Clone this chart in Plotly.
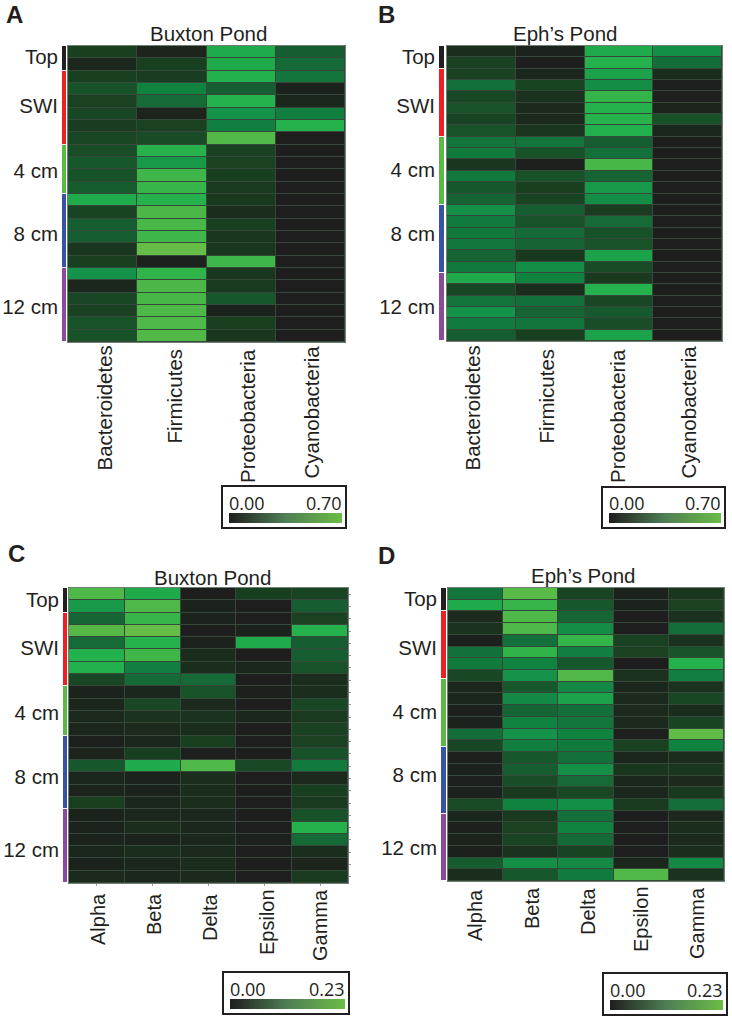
import plotly.graph_objects as go

W, H = 732, 1020
FONT = "Liberation Sans"
INK = "#231f20"

groups = ["Top", "SWI", "4 cm", "8 cm", "12 cm"]
group_colors = ["#231f20", "#ed2024", "#5cb947", "#3953a4", "#8a4a9e"]

phyla = ["Bacteroidetes", "Firmicutes", "Proteobacteria", "Cyanobacteria"]
classes = ["Alpha", "Beta", "Delta", "Epsilon", "Gamma"]

# cell values as a fraction of each panel's scale maximum (top to bottom)
a_rows = [
    [.12, .04, .58, .25], [.05, .12, .58, .30], [.12, .11, .60, .35], [.20, .42, .25, .03],
    [.13, .30, .62, .05], [.15, .04, .50, .40], [.11, .13, .40, .62], [.15, .17, .85, 0],
    [.18, .63, .13, 0], [.22, .52, .13, 0], [.20, .75, .12, 0], [.24, .72, .10, 0],
    [.58, .62, .10, 0], [.14, .80, .07, 0], [.25, .78, .12, 0], [.25, .75, .09, 0],
    [.09, .97, .09, 0], [.12, .03, .75, 0], [.50, .68, .09, 0], [.05, .80, .10, 0],
    [.15, .78, .22, 0], [.13, .82, .03, 0], [.20, .82, .12, 0], [.20, .85, .09, 0],
]
b_rows = [
    [.07, .03, .58, .48], [.13, 0, .62, .32], [.13, .05, .55, .07], [.33, .14, .47, .01],
    [.16, .08, .70, .01], [.20, .06, .62, .04], [.14, .06, .63, .20], [.20, .09, .60, .05],
    [.35, .35, .25, 0], [.38, .20, .33, 0], [.09, .02, .78, 0], [.37, .20, .27, 0],
    [.22, .12, .52, 0], [.27, .14, .47, 0], [.48, .25, .11, 0], [.38, .20, .30, 0],
    [.37, .30, .20, 0], [.36, .27, .20, 0], [.27, .10, .55, 0], [.37, .47, .17, 0],
    [.58, .42, .10, 0], [.15, .07, .62, 0], [.35, .33, .15, 0], [.50, .27, .23, 0],
    [.38, .35, .18, 0], [.25, .12, .55, 0],
]
c_rows = [
    [.82, .58, 0, .12, .14], [.52, .82, .03, 0, .25], [.28, .72, .03, 0, .13], [.88, .97, 0, .03, .62],
    [.30, .62, .03, .58, .25], [.60, .75, .07, 0, .25], [.60, .40, .07, .05, .20], [.15, .30, .30, 0, .07],
    [.03, .05, .20, .02, .07], [.05, .15, .06, 0, .15], [.06, .08, .08, .05, .10], [.05, .06, .07, 0, .13],
    [.02, .05, .12, 0, .13], [.04, .12, .01, 0, .20], [.22, .58, .82, .16, .38], [.05, .03, .07, 0, .06],
    [.04, .03, .07, 0, .12], [.12, .05, .07, 0, .10], [.03, .05, .05, 0, .20], [.03, .07, .05, 0, .62],
    [.03, .03, .05, .02, .30], [.05, .07, .06, 0, .07], [.03, .05, .07, 0, .04], [.06, .05, .06, 0, .10],
]
d_rows = [
    [.35, .90, .14, .03, .09], [.58, .72, .22, .03, .13], [.06, .82, .28, 0, .08], [.08, .82, .47, 0, .32],
    [.02, .33, .70, .13, .08], [.33, .68, .40, .13, .20], [.37, .42, .22, 0, .62], [.15, .50, .85, .08, .40],
    [.05, .22, .45, .05, .08], [.05, .45, .55, .06, .15], [.02, .28, .33, .06, .07], [.03, .42, .36, .06, .14],
    [.32, .50, .42, .01, .95], [.15, .40, .38, .13, .42], [.02, .22, .33, .05, .07], [.03, .25, .48, .09, .09],
    [.01, .18, .30, .05, .06], [.02, .10, .15, .05, .10], [.17, .42, .48, .10, .32], [.05, .10, .33, 0, .05],
    [.02, .13, .42, 0, .07], [.04, .14, .30, 0, .06], [.02, .08, .14, 0, .07], [.24, .48, .45, .05, .45],
    [.07, .22, .38, .85, .08],
]

heat_scale = [
    [0.00, "#1e1e1e"], [0.05, "#1b261c"], [0.10, "#1a3a1f"], [0.20, "#175229"],
    [0.30, "#156a38"], [0.40, "#107f3f"], [0.50, "#15934a"], [0.60, "#22b14c"],
    [0.70, "#33b54a"], [0.80, "#4cb748"], [0.90, "#58ba47"], [1.00, "#6abd45"],
]
ramp_scale = [[0, "#1f1f1f"], [0.5, "#4f7f55"], [1, "#6abd45"]]


def px_x(p):
    return p / W


def px_y(p):
    return 1 - p / H


panels = [
    dict(letter="A", title="Buxton Pond", rows=a_rows, cols=phyla, vmax=0.70, vtxt="0.70",
         heat=(68, 345, 46, 342), strip=(62, 67), sizes=[2, 6, 4, 6, 6],
         label_px=[57, 106, 171, 234, 307], letter_xy=(15, 15), title_xy=(208, 34),
         col_x=[104, 174, 247, 311], col_top=[344, 347, 347, 344], col_size=20.5,
         box=(222, 346, 486, 528), ticks=False),
    dict(letter="B", title="Eph\u2019s Pond", rows=b_rows, cols=phyla, vmax=0.70, vtxt="0.70",
         heat=(447, 722, 46, 341), strip=(439, 445), sizes=[2, 6, 6, 6, 6],
         label_px=[57, 106, 170, 234, 307], letter_xy=(386, 15), title_xy=(565, 34),
         col_x=[472, 546, 617, 688], col_top=[344, 347, 347, 344], col_size=20.5,
         box=(602, 725, 487, 528), ticks=False),
    dict(letter="C", title="Buxton Pond", rows=c_rows, cols=classes, vmax=0.23, vtxt="0.23",
         heat=(69, 348, 588, 883), strip=(63, 68), sizes=[2, 6, 4, 6, 6],
         label_px=[600, 648, 713, 777, 850], letter_xy=(16, 553), title_xy=(212, 577),
         col_x=[98, 154, 210, 267, 320], col_top=[891, 891, 891, 887, 887], col_size=20,
         box=(223, 349, 972, 1014), ticks=True),
    dict(letter="D", title="Eph\u2019s Pond", rows=d_rows, cols=classes, vmax=0.23, vtxt="0.23",
         heat=(448, 724, 588, 881), strip=(441, 447), sizes=[2, 5.8, 5.8, 5.7, 5.7],
         label_px=[599, 648, 712, 775, 848], letter_xy=(386, 555), title_xy=(583, 575),
         col_x=[475, 532, 588, 641, 697], col_top=[887, 885, 885, 884, 885], col_size=20,
         box=(603, 727, 973, 1015), ticks=False),
]

fig = go.Figure()
layout = {}
annotations = []
shapes = []

for i, p in enumerate(panels):
    hx, sx, lx = 3 * i + 1, 3 * i + 2, 3 * i + 3
    x0, x1, y0, y1 = p["heat"]
    n = len(p["rows"])
    m = len(p["cols"])
    cells = [[v * p["vmax"] for v in row] for row in p["rows"]]
    tick_style = dict(ticks="outside", ticklen=2, tickcolor="#9a9a9a", tickwidth=1) if p["ticks"] else dict(ticks="")

    # heatmap
    fig.add_trace(go.Heatmap(
        z=cells, x=p["cols"], zmin=0, zmax=p["vmax"], colorscale=heat_scale, showscale=False,
        xgap=1, ygap=1, xaxis=f"x{hx}", yaxis=f"y{hx}", hoverinfo="skip",
    ))
    layout[f"xaxis{hx}"] = dict(
        domain=[px_x(x0), px_x(x1)], anchor=f"y{hx}", showticklabels=False, showgrid=False,
        zeroline=False, showline=True, linecolor="#6f7f72", linewidth=1, mirror=True, **tick_style,
    )
    layout[f"yaxis{hx}"] = dict(
        domain=[px_y(y1), px_y(y0)], anchor=f"x{hx}", range=[n - 0.5, -0.5], showticklabels=False,
        side="right", dtick=1, showgrid=False, zeroline=False,
        showline=True, linecolor="#6f7f72", linewidth=1, mirror=True, **tick_style,
    )

    # rotated column labels, tied to the heatmap's category axis
    for j, (col, lab_x, lab_top) in enumerate(zip(p["cols"], p["col_x"], p["col_top"])):
        centre = x0 + (j + 0.5) * (x1 - x0) / m
        annotations.append(dict(
            text=col, x=col, xref=f"x{hx}", xshift=lab_x - centre, y=px_y(lab_top), yref="paper",
            textangle=-90, xanchor="center", yanchor="top", showarrow=False,
            font=dict(family=FONT, size=p["col_size"], color=INK),
        ))

    # depth strip with group labels
    total = sum(p["sizes"])
    for color, size in zip(group_colors, p["sizes"]):
        fig.add_trace(go.Bar(
            x=[0], y=[size], width=[1], marker=dict(color=color, line=dict(color="white", width=1)),
            xaxis=f"x{sx}", yaxis=f"y{sx}", showlegend=False, hoverinfo="skip",
        ))
    sa, sb = p["strip"]
    layout[f"xaxis{sx}"] = dict(domain=[px_x(sa), px_x(sb)], anchor=f"y{sx}", range=[-0.5, 0.5],
                                visible=False)
    layout[f"yaxis{sx}"] = dict(
        domain=[px_y(y1), px_y(y0)], anchor=f"x{sx}", range=[total, 0], side="left",
        tickmode="array", tickvals=[(py - y0) / (y1 - y0) * total for py in p["label_px"]], ticktext=groups,
        ticks="", showgrid=False, zeroline=False, showline=False, ticklabelstandoff=3,
        tickfont=dict(family=FONT, size=20.5, color=INK),
    )

    # scale legend
    bx0, bx1, by0, by1 = p["box"]
    fig.add_trace(go.Heatmap(
        z=[[0.0, p["vmax"]]], x=[0, 1], y=[0], zmin=0, zmax=p["vmax"], zsmooth="best",
        colorscale=ramp_scale, showscale=False, xaxis=f"x{lx}", yaxis=f"y{lx}", hoverinfo="skip",
    ))
    layout[f"xaxis{lx}"] = dict(domain=[px_x(bx0 + 7), px_x(bx1 - 4)], anchor=f"y{lx}", range=[0, 1],
                                visible=False)
    layout[f"yaxis{lx}"] = dict(domain=[px_y(by1 - 5), px_y(by1 - 15)], anchor=f"x{lx}", range=[-0.5, 0.5],
                                visible=False)
    shapes.append(dict(type="rect", xref="paper", yref="paper", x0=px_x(bx0), x1=px_x(bx1),
                       y0=px_y(by0), y1=px_y(by1), line=dict(color=INK, width=2),
                       fillcolor="rgba(0,0,0,0)", layer="below"))
    for txt, xp, anchor in (("0.00", bx0 + 7, "left"), (p["vtxt"], bx1 - 4, "right")):
        annotations.append(dict(text=txt, x=px_x(xp), y=px_y(by1 - 25), xref="paper", yref="paper",
                                xanchor=anchor, yanchor="middle", showarrow=False, borderpad=0,
                                xshift=-1 if anchor == "left" else 1,
                                font=dict(family="Open Sans", size=18, color=INK)))

    # title and panel letter
    annotations.append(dict(text=p["title"], x=px_x(p["title_xy"][0]), y=px_y(p["title_xy"][1]),
                            xref="paper", yref="paper", xanchor="center", yanchor="middle", showarrow=False,
                            font=dict(family=FONT, size=20.5, color=INK)))
    annotations.append(dict(text=f"<b>{p['letter']}</b>", x=px_x(p["letter_xy"][0]), y=px_y(p["letter_xy"][1]),
                            xref="paper", yref="paper", xanchor="center", yanchor="middle", showarrow=False,
                            font=dict(family=FONT, size=24, color=INK)))

fig.update_layout(
    width=W, height=H, margin=dict(l=0, r=0, t=0, b=0), autosize=False,
    paper_bgcolor="white", plot_bgcolor="#35483a", barmode="stack", bargap=0,
    showlegend=False, annotations=annotations, shapes=shapes, **layout,
)
fig.write_html("out.html", config={"displayModeBar": False}, post_script="document.body.style.margin='0';")
